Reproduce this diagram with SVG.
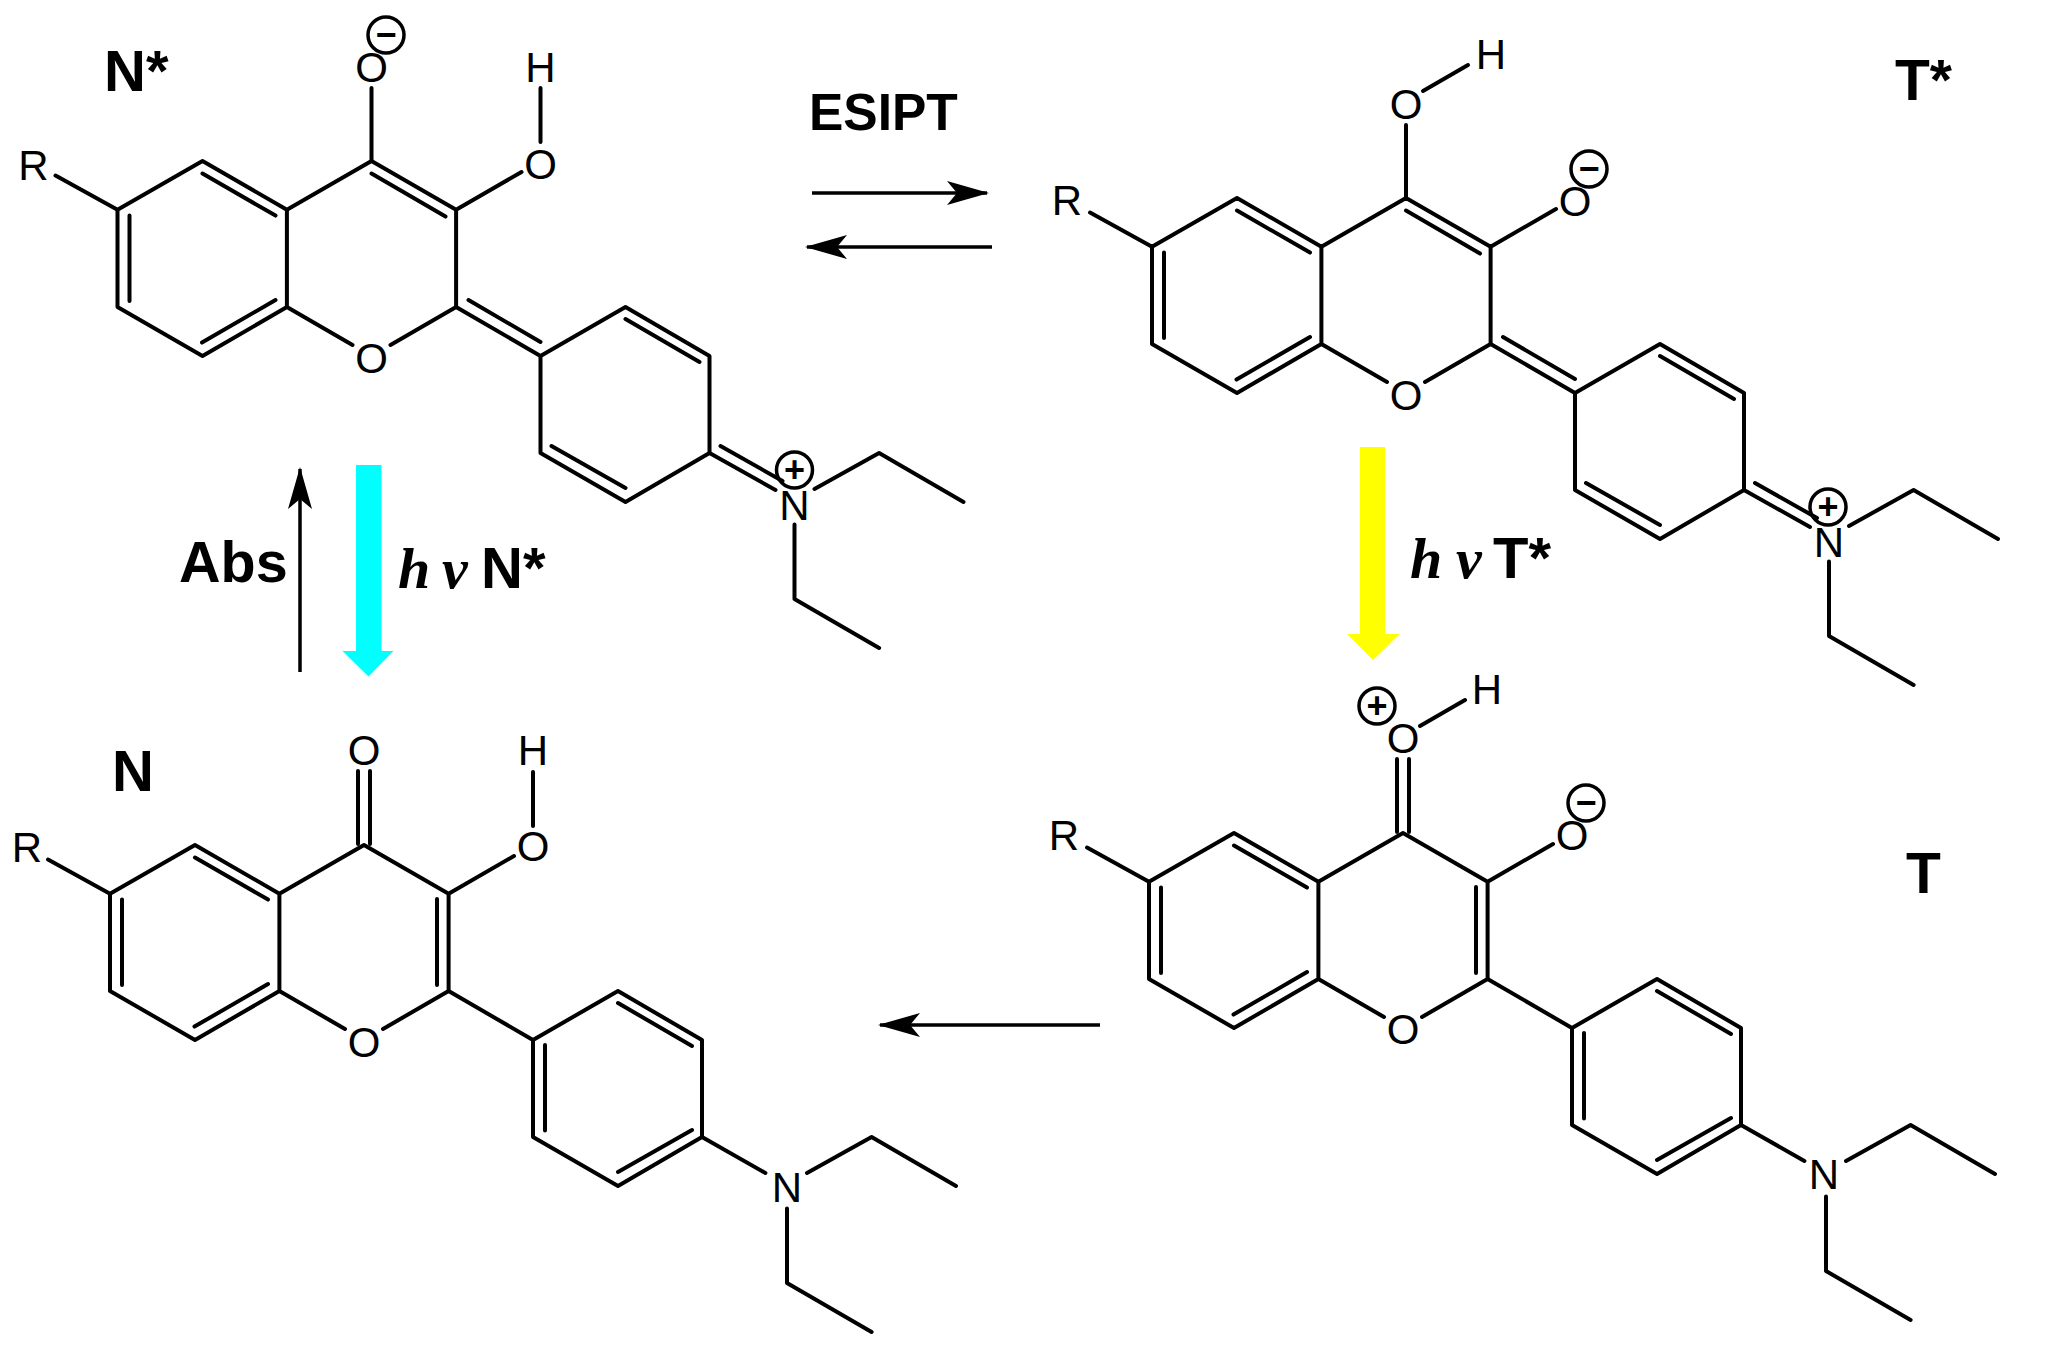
<svg xmlns="http://www.w3.org/2000/svg" xmlns:xlink="http://www.w3.org/1999/xlink" width="2048" height="1366" viewBox="0 0 2048 1366">
<style>
.b{fill:none;stroke:#000;stroke-width:4;stroke-linecap:round;stroke-linejoin:round}
.a{font-family:"Liberation Sans",Arial,sans-serif;font-size:42px;text-anchor:middle;fill:#000}
.c{fill:#fff;fill-opacity:0;stroke:#000;stroke-width:3.5}
.q{font-family:"Liberation Sans",Arial,sans-serif;font-size:36px;font-weight:bold;text-anchor:middle;fill:#000}
.l{font-family:"Liberation Sans",Arial,sans-serif;font-weight:bold;fill:#000}
.i{font-family:"Liberation Serif","Times New Roman",serif;font-weight:bold;font-style:italic;fill:#000}
.r{fill:none;stroke:#000;stroke-width:3.5;marker-end:url(#h)}
</style>
<defs>
<marker id="h" markerUnits="userSpaceOnUse" markerWidth="44" markerHeight="26" refX="40" refY="12" orient="auto"><path d="M0 0L42 12L0 24L10 12Z" fill="#000"/></marker>
<path id="core" class="b" d="M-84.6 48.7L0 0L84.6 48.7V146L19 184M-19 184L-84.6 146V48.7L-169 0L-254 48.7V146L-169 195L-84.6 146M-169 12.5L-96 54.6M-242 54.5V140M-169.5 181.6L-96 139M-254 48.7L-316 14.6M84.6 48.7L150 11"/>
<path id="ph" class="b" d="M84.6 146L169 195L254 146L338 195V292L254 341L169 292V195M254 158L328 201"/>
<path id="et" class="b" d="M443 328L507.6 292L592 341M423 363.500V438L507.6 487"/>
<path id="quin" class="b" d="M0 12.5L74 55.6M97 139L169 181M180 285L254 327M338 292L404 329M349 285L411 320"/>
<path id="benz" class="b" d="M73 54V140M181 200V285.6M328 285L254 327M338 292L401.4 328"/>
</defs>
<rect width="2048" height="1366" fill="#fff"/>

<g id="node-Nstar" transform="translate(371.500 161)">
<use xlink:href="#core" href="#core"/><use xlink:href="#ph" href="#ph"/><use xlink:href="#et" href="#et"/><use xlink:href="#quin" href="#quin"/>
<path class="b" d="M0 0V-73M169 -19V-73"/>
<text class="a" x="-338" y="19">R</text>
<text class="a" x="0" y="-79">O</text>
<text class="a" x="169" y="-79">H</text>
<text class="a" x="169" y="18">O</text>
<text class="a" x="0" y="212">O</text>
<text class="a" x="423" y="359">N</text>
<circle class="c" cx="14.500" cy="-126" r="18"/><text class="q" x="14.500" y="-114">−</text>
<circle class="c" cx="423" cy="309" r="18"/><text class="q" x="423" y="321">+</text>
</g>

<g id="node-Tstar" transform="translate(1406 198)">
<use xlink:href="#core" href="#core"/><use xlink:href="#ph" href="#ph"/><use xlink:href="#et" href="#et"/><use xlink:href="#quin" href="#quin"/>
<path class="b" d="M0 0V-73M17 -107L62 -133"/>
<text class="a" x="-339" y="17">R</text>
<text class="a" x="0" y="-79">O</text>
<text class="a" x="85" y="-129">H</text>
<text class="a" x="169" y="18">O</text>
<text class="a" x="0" y="212">O</text>
<text class="a" x="423" y="359">N</text>
<circle class="c" cx="183" cy="-29" r="18"/><text class="q" x="183" y="-17">−</text>
<circle class="c" cx="422" cy="309" r="18"/><text class="q" x="422" y="321">+</text>
</g>

<g id="node-N" transform="translate(364 845)">
<use xlink:href="#core" href="#core"/><use xlink:href="#ph" href="#ph"/><use xlink:href="#et" href="#et"/><use xlink:href="#benz" href="#benz"/>
<path class="b" d="M-6 -1V-74M6 -1V-74M169 -19V-73"/>
<text class="a" x="-337" y="17">R</text>
<text class="a" x="0" y="-80">O</text>
<text class="a" x="169" y="-80">H</text>
<text class="a" x="169" y="16">O</text>
<text class="a" x="0" y="212">O</text>
<text class="a" x="423" y="357">N</text>
</g>

<g id="node-T" transform="translate(1403 833)">
<use xlink:href="#core" href="#core"/><use xlink:href="#ph" href="#ph"/><use xlink:href="#et" href="#et"/><use xlink:href="#benz" href="#benz"/>
<path class="b" d="M-6 -1V-74M6 -1V-74M17 -107L62 -133"/>
<text class="a" x="-339" y="17">R</text>
<text class="a" x="0" y="-80">O</text>
<text class="a" x="84" y="-129">H</text>
<text class="a" x="169" y="17">O</text>
<text class="a" x="0" y="211">O</text>
<text class="a" x="421" y="356">N</text>
<circle class="c" cx="183" cy="-30" r="18"/><text class="q" x="183" y="-18">−</text>
<circle class="c" cx="-26" cy="-127" r="18"/><text class="q" x="-26" y="-115">+</text>
</g>

<g id="connectors">
<path class="r" d="M812 193H987"/>
<path class="r" d="M992 247H807"/>
<path class="r" d="M300 672V469"/>
<path class="r" d="M1100 1025H880"/>
<path d="M356 465H381.500V651H393.500L368.500 676.500L342.500 651H356Z" fill="#00ffff"/>
<path d="M1360 447H1385V634H1399.500L1373 660L1347 634H1360Z" fill="#ffff00"/>
</g>

<g id="labels">
<text class="l" x="104" y="91" font-size="58">N*</text>
<text class="l" x="1895" y="100" font-size="57">T*</text>
<text class="l" x="112" y="791" font-size="58">N</text>
<text class="l" x="1906" y="893" font-size="57">T</text>
<text class="l" x="809" y="130" font-size="51.500">ESIPT</text>
<text class="l" x="179" y="582" font-size="57.500">Abs</text>
<text y="588" font-size="58"><tspan class="i" x="398">h</tspan><tspan class="i" x="442">ν</tspan><tspan class="l" x="481">N*</tspan></text>
<text y="578" font-size="58"><tspan class="i" x="1410">h</tspan><tspan class="i" x="1456">ν</tspan><tspan class="l" x="1493">T*</tspan></text>
</g>
</svg>
